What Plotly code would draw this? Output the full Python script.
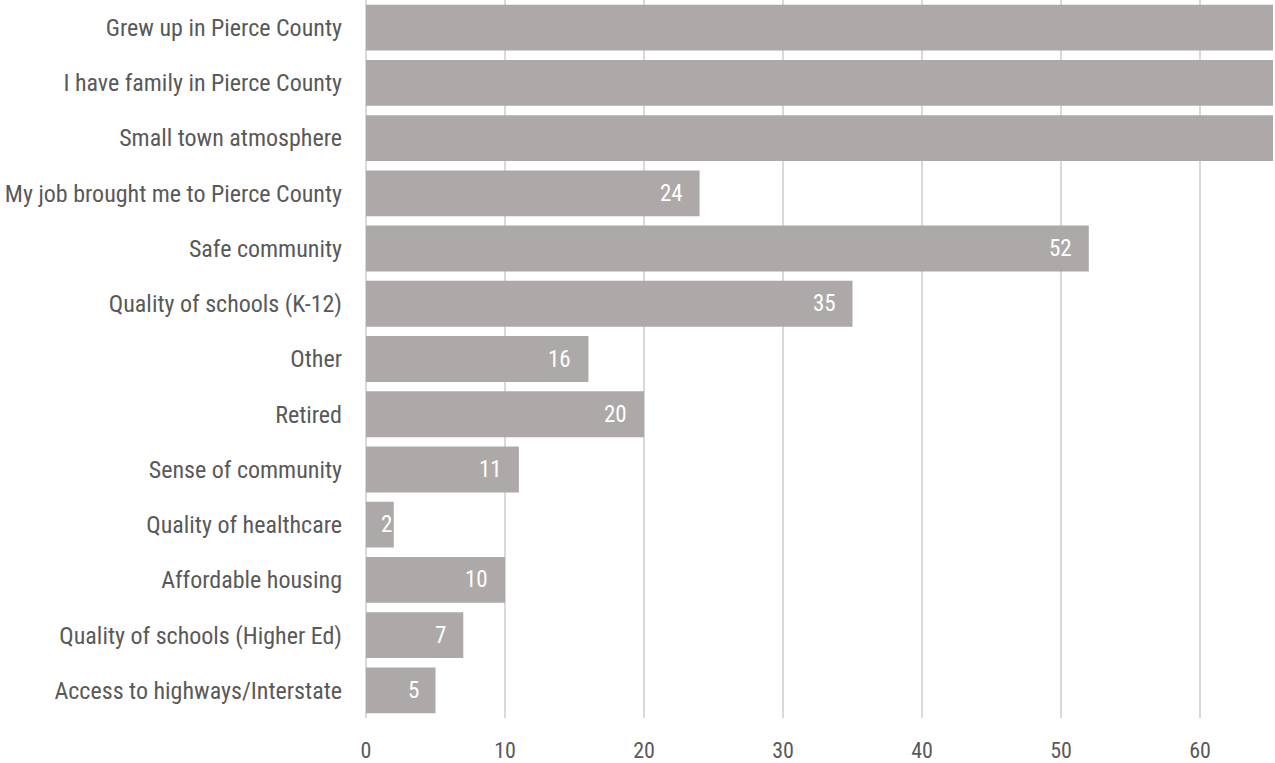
import plotly.graph_objects as go

categories = [
    "Grew up in Pierce County",
    "I have family in Pierce County",
    "Small town atmosphere",
    "My job brought me to Pierce County",
    "Safe community",
    "Quality of schools (K-12)",
    "Other",
    "Retired",
    "Sense of community",
    "Quality of healthcare",
    "Affordable housing",
    "Quality of schools (Higher Ed)",
    "Access to highways/Interstate",
]
values = [92, 84, 70, 24, 52, 35, 16, 20, 11, 2, 10, 7, 5]
x_max = 65.25
tick_vals = [0, 10, 20, 30, 40, 50, 60]

font_family = "Roboto Condensed, Liberation Sans Narrow, Roboto, sans-serif"

fig = go.Figure(
    go.Bar(
        y=categories,
        x=values,
        orientation="h",
        marker=dict(color="#ada9a8", line=dict(width=0)),
        cliponaxis=True,
        hoverinfo="x+y",
    )
)

for cat, v in zip(categories, values):
    if v <= x_max:
        fig.add_annotation(
            x=v,
            y=cat,
            text=str(v),
            showarrow=False,
            xanchor="right",
            yanchor="middle",
            xshift=-15 if v > 3 else 0,
            font=dict(color="white", size=23, family=font_family),
        )

fig.update_layout(
    width=1275,
    height=763,
    margin=dict(l=366, r=2, t=0, b=45),
    plot_bgcolor="white",
    paper_bgcolor="white",
    bargap=0.17,
    showlegend=False,
    font=dict(family=font_family, size=24, color="#595959"),
)
fig.update_xaxes(
    range=[0, x_max],
    tickvals=tick_vals,
    showgrid=True,
    gridcolor="#d9d9d9",
    gridwidth=2,
    zeroline=True,
    zerolinecolor="#d9d9d9",
    zerolinewidth=2,
    showline=False,
    ticks="",
    automargin=False,
    tickfont=dict(size=22, color="#595959"),
    ticklabelstandoff=17,
)
fig.update_yaxes(
    autorange="reversed",
    showgrid=False,
    ticks="",
    automargin=False,
    ticklabelstandoff=23,
    tickfont=dict(size=24, color="#595959"),
)

fig.write_html(
    "out.html",
    config={"displayModeBar": False},
    post_script="document.body.style.margin='0';document.body.style.overflow='hidden';",
)
